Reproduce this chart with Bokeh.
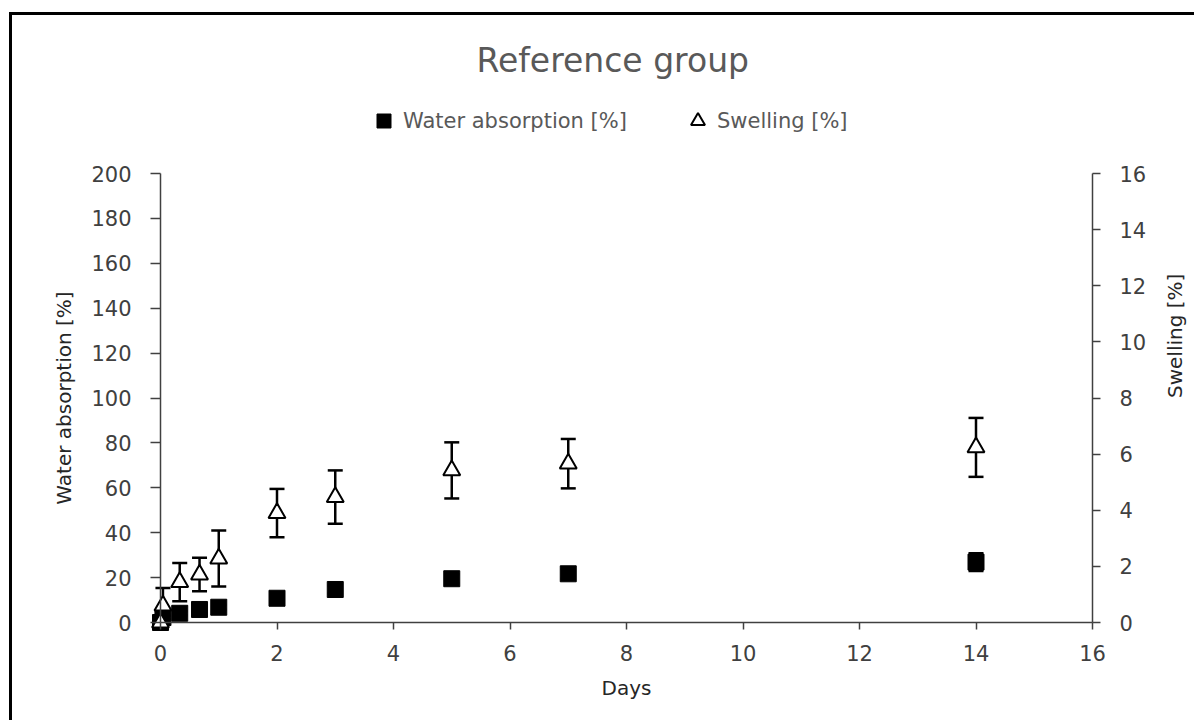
import math
from bokeh.plotting import figure
from bokeh.models import (Range1d, LinearAxis, Whisker, TeeHead, ColumnDataSource,
                          Legend, LegendItem, FixedTicker)
from bokeh.embed import file_html
from bokeh.resources import INLINE

# ---- data ----
days = [0, 0.042, 0.33, 0.67, 1, 2, 3, 5, 7, 14]
water_absorption = [0, 2.2, 4.1, 5.8, 6.8, 10.8, 14.7, 19.5, 21.7, 26.9]
water_absorption_err = [0.3, 0.8, 0.9, 1.0, 1.1, 1.5, 1.8, 2.0, 2.2, 4.0]
swelling = [0, 0.6, 1.44, 1.71, 2.28, 3.9, 4.47, 5.42, 5.66, 6.24]
swelling_err = [0, 0.63, 0.68, 0.6, 1.0, 0.86, 0.95, 1.0, 0.88, 1.05]

x_ticks = [0, 2, 4, 6, 8, 10, 12, 14, 16]
left_ticks = [0, 20, 40, 60, 80, 100, 120, 140, 160, 180, 200]
right_ticks = [0, 2, 4, 6, 8, 10, 12, 14, 16]

title_text = "Reference group"
x_label = "Days"
left_label = "Water absorption [%]"
right_label = "Swelling [%]"
legend_labels = ["Water absorption [%]", "Swelling [%]"]

FONT = "DejaVu Sans"
AXIS_COL = "#404040"

src = ColumnDataSource(dict(
    days=days,
    water=water_absorption,
    water_lo=[v - e for v, e in zip(water_absorption, water_absorption_err)],
    water_hi=[v + e for v, e in zip(water_absorption, water_absorption_err)],
    swell=swelling,
    swell_lo=[v - e for v, e in zip(swelling, swelling_err)],
    swell_hi=[v + e for v, e in zip(swelling, swelling_err)],
))

# ---- layout (canvas pixels); axes are pinned inside a larger frame ----
W, H = 1185, 708
TOP, BOTTOM = 80, 23
AX_LEFT_PX, AX_WIDTH_PX = 148, 932      # x=0 .. x=16 on the canvas
AX_ZERO_PX, AX_HEIGHT_PX = 607, 449     # y=0 pixel row (canvas) and axis height
x0, x1 = x_ticks[0], x_ticks[-1]
y_max, s_max = left_ticks[-1], right_ticks[-1]

xs = AX_WIDTH_PX / (x1 - x0)
x_start = x0 - AX_LEFT_PX / xs
x_end = x_start + W / xs
ys = AX_HEIGHT_PX / y_max
ss = AX_HEIGHT_PX / s_max
below_px = (H - BOTTOM) - AX_ZERO_PX
above_px = AX_ZERO_PX - TOP

p = figure(width=W, height=H,
           x_range=Range1d(x_start, x_end),
           y_range=Range1d(-below_px / ys, above_px / ys),
           output_backend="svg", toolbar_location=None,
           min_border_left=0, min_border_right=0,
           min_border_top=TOP, min_border_bottom=BOTTOM)
p.styles = {"border-left": "3px solid black", "border-top": "3px solid black",
            "position": "relative", "top": "12px", "left": "9px"}
p.extra_y_ranges = {"swell": Range1d(-below_px / ss, above_px / ss)}
p.outline_line_color = None
p.background_fill_color = "white"
p.border_fill_color = "white"
p.grid.visible = False

# title
p.title.text = title_text
p.title.align = "left"
p.title.offset = 464
p.title.text_font = FONT
p.title.text_font_size = "33px"
p.title.text_font_style = "normal"
p.title.text_color = "#595959"
p.title.standoff = 31


def style_axis(ax, tick_out, lab_standoff, axlab_standoff):
    ax.axis_line_color = AXIS_COL
    ax.axis_line_width = 1.5
    ax.major_tick_line_color = AXIS_COL
    ax.major_tick_line_width = 1.5
    ax.major_tick_in = 0
    ax.major_tick_out = tick_out
    ax.minor_tick_line_color = None
    ax.major_label_text_font = FONT
    ax.major_label_text_font_size = "21px"
    ax.major_label_text_color = AXIS_COL
    ax.major_label_standoff = lab_standoff
    ax.axis_label_text_font = FONT
    ax.axis_label_text_font_size = "20px"
    ax.axis_label_text_font_style = "normal"
    ax.axis_label_text_color = "#262626"
    ax.axis_label_standoff = axlab_standoff


xa = p.xaxis[0]
xa.ticker = FixedTicker(ticks=x_ticks)
xa.bounds = (x0, x1)
xa.fixed_location = 0
xa.axis_label = x_label
style_axis(xa, 7, 15, 12)

ya = p.yaxis[0]
ya.ticker = FixedTicker(ticks=left_ticks)
ya.bounds = (0, y_max)
ya.fixed_location = x0
ya.axis_label = left_label
style_axis(ya, 10, 19, 12)

ra = LinearAxis(y_range_name="swell", ticker=FixedTicker(ticks=right_ticks),
                axis_label=right_label, bounds=(0, s_max), fixed_location=x1)
style_axis(ra, 8, 19, 26)
ra.axis_label_orientation = math.pi / 2
p.add_layout(ra, "right")

# error bars (under the markers)
w1 = Whisker(source=src, base="days", upper="water_hi", lower="water_lo",
             dimension="height", line_color="black", line_width=2.5, level="underlay",
             upper_head=TeeHead(size=15, line_width=2.5, line_color="black"),
             lower_head=TeeHead(size=15, line_width=2.5, line_color="black"))
p.add_layout(w1)
w2 = Whisker(source=src, base="days", upper="swell_hi", lower="swell_lo",
             dimension="height", line_color="black", line_width=2.5, level="underlay",
             y_range_name="swell",
             upper_head=TeeHead(size=15, line_width=2.5, line_color="black"),
             lower_head=TeeHead(size=15, line_width=2.5, line_color="black"))
p.add_layout(w2)

sq = p.scatter(x="days", y="water", source=src, marker="square", size=16,
               fill_color="black", line_color="black")
tri = p.scatter(x="days", y="swell", source=src, marker="triangle", size=17,
                fill_color="white", line_color="black", line_width=2,
                y_range_name="swell")

# legend in the free band above the axes (location: px from frame bottom-left)
legend = Legend(items=[LegendItem(label=legend_labels[0], renderers=[sq]),
                       LegendItem(label=legend_labels[1], renderers=[tri])],
                orientation="horizontal", location=(354, 562),
                glyph_width=35, glyph_height=35, label_standoff=2, spacing=53,
                label_text_font=FONT, label_text_font_size="21px",
                label_text_color="#595959", padding=0, margin=0,
                border_line_color=None, background_fill_alpha=0)
p.add_layout(legend)

open("out.html", "w").write(file_html(p, INLINE))
